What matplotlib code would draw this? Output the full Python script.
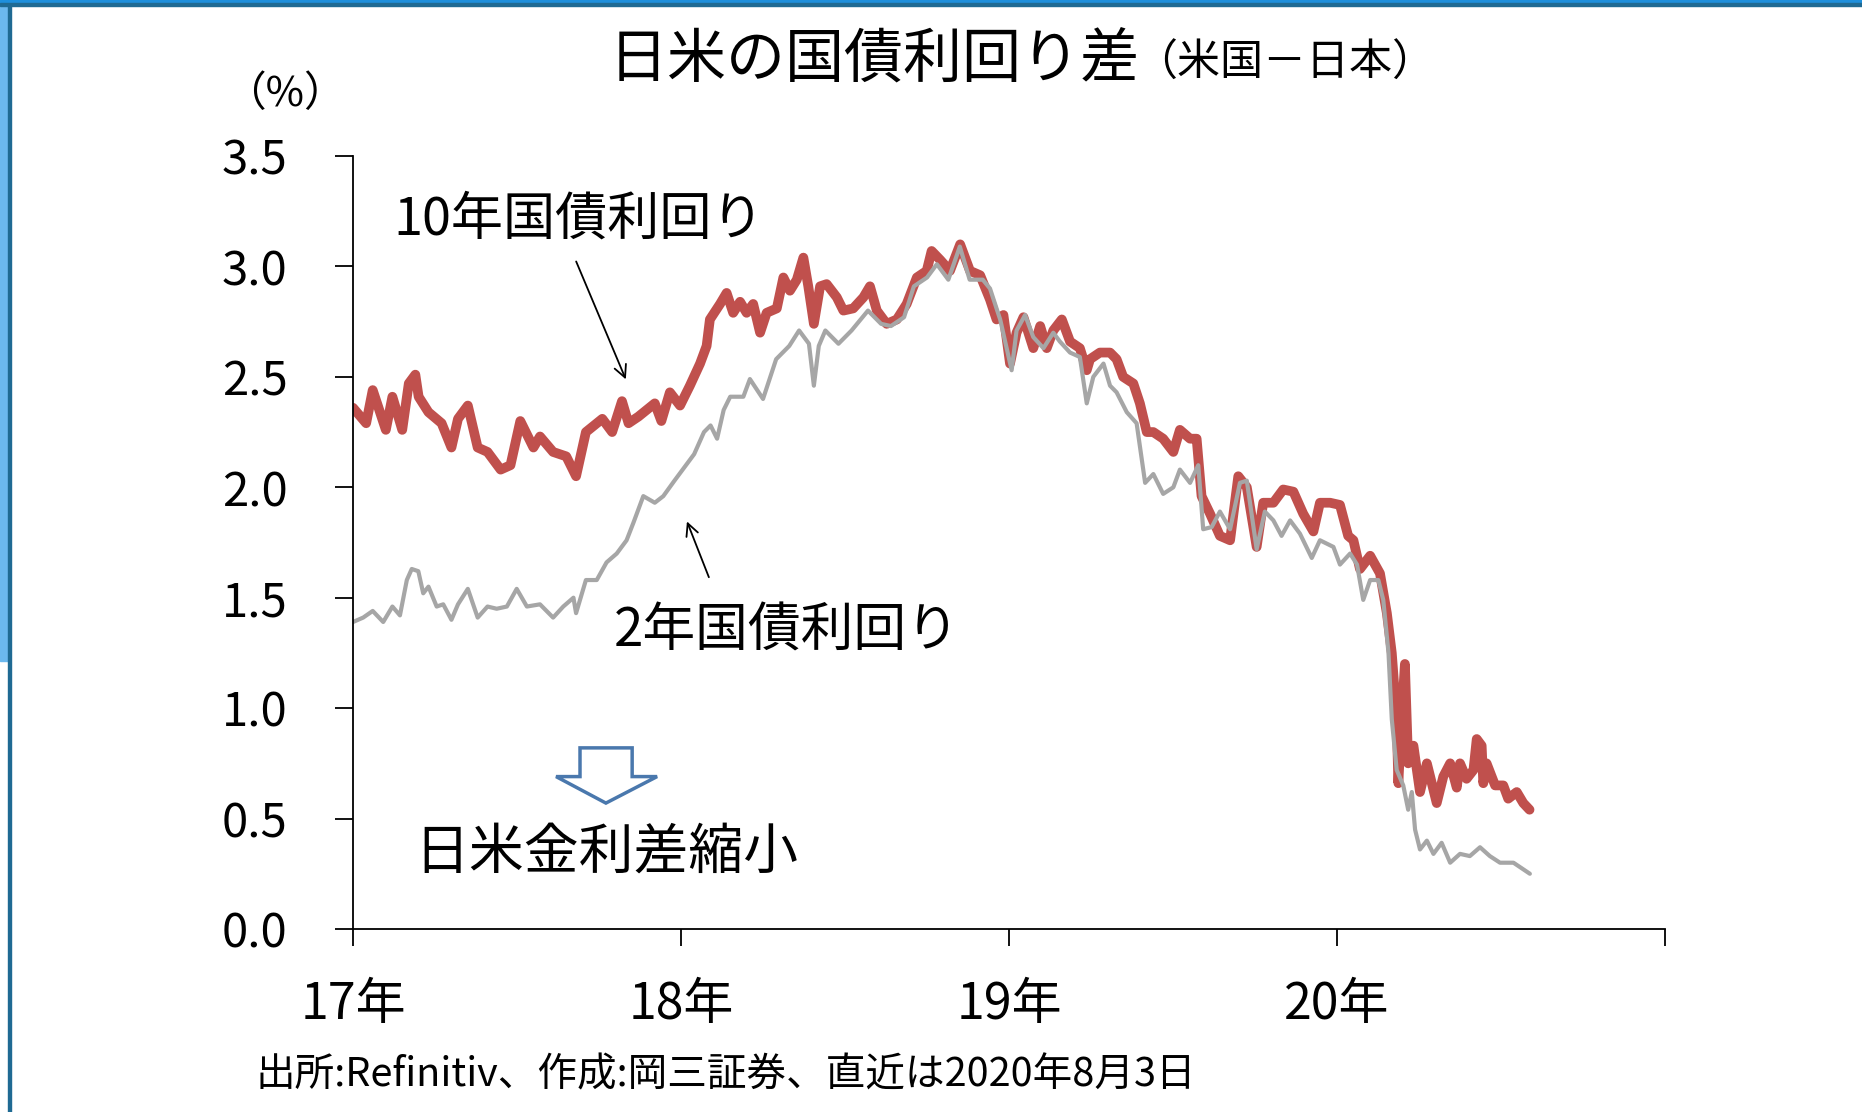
import matplotlib
matplotlib.use('Agg')
import matplotlib.pyplot as plt
from matplotlib.patches import Polygon, Rectangle

plt.rcParams['font.family'] = ['Noto Sans CJK JP', 'DejaVu Sans']

# 10年国債利回り差（米国－日本）、年は小数で表記
fecha_10 = [2017.000, 2017.040, 2017.060, 2017.100, 2017.120, 2017.150, 2017.170, 2017.190, 2017.200, 2017.230,
            2017.270, 2017.300, 2017.320, 2017.350, 2017.380, 2017.410, 2017.450, 2017.480, 2017.510, 2017.550,
            2017.570, 2017.610, 2017.650, 2017.680, 2017.710, 2017.760, 2017.790, 2017.820, 2017.840, 2017.870,
            2017.920, 2017.940, 2017.966, 2017.997, 2018.027, 2018.058, 2018.078, 2018.088, 2018.119, 2018.139,
            2018.159, 2018.180, 2018.200, 2018.220, 2018.241, 2018.261, 2018.292, 2018.312, 2018.332, 2018.353,
            2018.373, 2018.388, 2018.405, 2018.424, 2018.444, 2018.475, 2018.495, 2018.525, 2018.556, 2018.576,
            2018.597, 2018.627, 2018.658, 2018.688, 2018.719, 2018.749, 2018.764, 2018.790, 2018.820, 2018.851,
            2018.881, 2018.912, 2018.942, 2018.962, 2018.983, 2019.003, 2019.023, 2019.044, 2019.074, 2019.095,
            2019.115, 2019.135, 2019.161, 2019.186, 2019.216, 2019.237, 2019.247, 2019.277, 2019.308, 2019.328,
            2019.348, 2019.379, 2019.399, 2019.420, 2019.440, 2019.470, 2019.501, 2019.521, 2019.552, 2019.572,
            2019.587, 2019.613, 2019.643, 2019.674, 2019.699, 2019.725, 2019.755, 2019.775, 2019.806, 2019.836,
            2019.867, 2019.897, 2019.928, 2019.948, 2019.979, 2020.009, 2020.034, 2020.050, 2020.070, 2020.101,
            2020.131, 2020.152, 2020.167, 2020.182, 2020.187, 2020.197, 2020.207, 2020.217, 2020.233, 2020.253,
            2020.274, 2020.304, 2020.324, 2020.345, 2020.365, 2020.375, 2020.395, 2020.416, 2020.426, 2020.441,
            2020.446, 2020.456, 2020.482, 2020.507, 2020.522, 2020.548, 2020.568, 2020.587]
dif_10 = [2.36, 2.29, 2.44, 2.26, 2.41, 2.26, 2.47, 2.51, 2.41, 2.34,
          2.29, 2.18, 2.31, 2.37, 2.18, 2.16, 2.08, 2.10, 2.30, 2.18,
          2.23, 2.16, 2.14, 2.05, 2.25, 2.31, 2.25, 2.39, 2.29, 2.32,
          2.38, 2.30, 2.43, 2.37, 2.46, 2.56, 2.64, 2.76, 2.83, 2.88,
          2.79, 2.84, 2.79, 2.83, 2.70, 2.79, 2.81, 2.95, 2.89, 2.94,
          3.04, 2.91, 2.74, 2.91, 2.92, 2.86, 2.80, 2.81, 2.86, 2.91,
          2.80, 2.74, 2.76, 2.83, 2.95, 2.98, 3.07, 3.03, 2.98, 3.10,
          2.98, 2.96, 2.85, 2.76, 2.78, 2.56, 2.70, 2.77, 2.63, 2.73,
          2.63, 2.71, 2.76, 2.66, 2.63, 2.53, 2.58, 2.61, 2.61, 2.58,
          2.50, 2.47, 2.38, 2.25, 2.25, 2.22, 2.16, 2.26, 2.22, 2.22,
          1.96, 1.88, 1.78, 1.76, 2.05, 2.00, 1.73, 1.93, 1.93, 1.99,
          1.98, 1.88, 1.80, 1.93, 1.93, 1.92, 1.78, 1.76, 1.63, 1.69,
          1.61, 1.43, 1.25, 0.95, 0.66, 0.95, 1.20, 0.75, 0.83, 0.62,
          0.75, 0.57, 0.69, 0.75, 0.64, 0.75, 0.68, 0.72, 0.86, 0.83,
          0.66, 0.75, 0.65, 0.65, 0.59, 0.62, 0.57, 0.54]

# 2年国債利回り差（米国－日本）
fecha_2 = [2017.000, 2017.031, 2017.060, 2017.092, 2017.120, 2017.143, 2017.164, 2017.179, 2017.199, 2017.214,
           2017.230, 2017.255, 2017.275, 2017.300, 2017.320, 2017.350, 2017.380, 2017.410, 2017.438, 2017.469,
           2017.499, 2017.530, 2017.570, 2017.610, 2017.641, 2017.672, 2017.680, 2017.710, 2017.743, 2017.773,
           2017.804, 2017.834, 2017.855, 2017.885, 2017.920, 2017.946, 2017.980, 2018.010, 2018.040, 2018.070,
           2018.090, 2018.110, 2018.130, 2018.150, 2018.190, 2018.210, 2018.250, 2018.290, 2018.330, 2018.360,
           2018.390, 2018.405, 2018.420, 2018.440, 2018.480, 2018.520, 2018.570, 2018.610, 2018.640, 2018.680,
           2018.710, 2018.750, 2018.780, 2018.815, 2018.850, 2018.880, 2018.920, 2018.942, 2018.973, 2019.008,
           2019.023, 2019.049, 2019.074, 2019.105, 2019.135, 2019.155, 2019.186, 2019.216, 2019.237, 2019.257,
           2019.288, 2019.308, 2019.328, 2019.359, 2019.389, 2019.415, 2019.440, 2019.470, 2019.501, 2019.521,
           2019.552, 2019.577, 2019.592, 2019.618, 2019.643, 2019.674, 2019.704, 2019.725, 2019.755, 2019.780,
           2019.806, 2019.831, 2019.857, 2019.887, 2019.923, 2019.948, 2019.989, 2020.009, 2020.040, 2020.061,
           2020.080, 2020.101, 2020.126, 2020.141, 2020.157, 2020.167, 2020.182, 2020.202, 2020.217, 2020.228,
           2020.238, 2020.253, 2020.274, 2020.294, 2020.319, 2020.345, 2020.375, 2020.405, 2020.436, 2020.466,
           2020.497, 2020.538, 2020.568, 2020.588]
dif_2 = [1.39, 1.41, 1.44, 1.39, 1.46, 1.42, 1.58, 1.63, 1.62, 1.52,
         1.55, 1.46, 1.47, 1.40, 1.47, 1.54, 1.41, 1.46, 1.45, 1.46,
         1.54, 1.46, 1.47, 1.41, 1.46, 1.50, 1.43, 1.58, 1.58, 1.66,
         1.70, 1.76, 1.84, 1.96, 1.93, 1.96, 2.03, 2.09, 2.15, 2.25,
         2.28, 2.22, 2.35, 2.41, 2.41, 2.49, 2.40, 2.58, 2.64, 2.71,
         2.65, 2.46, 2.64, 2.71, 2.65, 2.71, 2.80, 2.74, 2.73, 2.77,
         2.91, 2.95, 3.01, 2.94, 3.09, 2.94, 2.94, 2.90, 2.76, 2.53,
         2.71, 2.78, 2.68, 2.63, 2.70, 2.66, 2.61, 2.59, 2.38, 2.50,
         2.56, 2.46, 2.43, 2.34, 2.29, 2.02, 2.06, 1.97, 2.00, 2.08,
         2.02, 2.10, 1.81, 1.82, 1.89, 1.81, 2.02, 2.03, 1.72, 1.89,
         1.85, 1.78, 1.85, 1.79, 1.68, 1.76, 1.73, 1.65, 1.70, 1.65,
         1.49, 1.58, 1.58, 1.49, 1.25, 0.95, 0.72, 0.65, 0.54, 0.62,
         0.45, 0.36, 0.40, 0.34, 0.39, 0.30, 0.34, 0.33, 0.37, 0.33,
         0.30, 0.30, 0.27, 0.25]

anios = [2017, 2018, 2019, 2020, 2021]
etiquetas_x = ['17年', '18年', '19年', '20年', '']
valores_y = [0.0, 0.5, 1.0, 1.5, 2.0, 2.5, 3.0, 3.5]

fig = plt.figure(figsize=(18.62, 11.12), dpi=100)

# marco azul de la diapositiva
fig.patches.append(Rectangle((0, 0.406), 0.0045, 0.594, transform=fig.transFigure,
                             color='#6bb8ee', zorder=0))
fig.patches.append(Rectangle((0.0045, 0), 0.0016, 1, transform=fig.transFigure,
                             color='#1f6a93', zorder=1))
fig.patches.append(Rectangle((0, 0.9973), 1, 0.0027, transform=fig.transFigure,
                             color='#1e8fdc', zorder=1))
fig.patches.append(Rectangle((0, 0.9946), 1, 0.0027, transform=fig.transFigure,
                             color='#1f6a93', zorder=1))

ax = fig.add_axes([0.1896, 0.1646, 0.7046, 0.6951])
ax.plot(fecha_10, dif_10, color='#c0504d', lw=7.0, solid_joinstyle='round', solid_capstyle='round')
ax.plot(fecha_2, dif_2, color='#a6a6a6', lw=3.0, solid_joinstyle='round', solid_capstyle='round')

ax.set_xlim(2017, 2021)
ax.set_ylim(0, 3.5)
ax.set_xticks(anios)
ax.set_xticklabels(etiquetas_x)
ax.set_yticks(valores_y)
ax.set_yticklabels([f'{v:.1f}' for v in valores_y])
ax.tick_params(axis='y', direction='out', length=13, width=1.3, pad=34, labelsize=34)
ax.tick_params(axis='x', direction='out', length=12, width=1.3, pad=24, labelsize=36)
for lado in ['top', 'right']:
    ax.spines[lado].set_visible(False)
for lado in ['left', 'bottom']:
    ax.spines[lado].set_linewidth(1.3)

# anotaciones
ax.text(2017.689, 3.21, '10年国債利回り', fontsize=37.5, ha='center', va='center')
ax.annotate('', xy=(2017.835, 2.477), xytext=(2017.677, 3.034),
            arrowprops=dict(arrowstyle='->', lw=1.3, color='black', mutation_scale=22))
ax.text(2018.323, 1.35, '2年国債利回り', fontsize=38, ha='center', va='center')
ax.annotate('', xy=(2018.015, 1.857), xytext=(2018.088, 1.581),
            arrowprops=dict(arrowstyle='->', lw=1.3, color='black', mutation_scale=22))
ax.text(2017.774, 0.344, '日米金利差縮小', fontsize=39.5, ha='center', va='center')

flecha = Polygon([(2017.692, 0.82), (2017.851, 0.82), (2017.851, 0.69), (2017.927, 0.69),
                  (2017.771, 0.57), (2017.619, 0.69), (2017.692, 0.69)],
                 closed=True, facecolor='white', edgecolor='#4a78ad', lw=2.5, joinstyle='miter')
ax.add_patch(flecha)

# títulos
fig.text(1140 / 1862, 1 - 78 / 1112, '日米の国債利回り差', fontsize=42.5, ha='right', va='baseline')
fig.text(1134 / 1862, 1 - 76 / 1112, '（米国－日本）', fontsize=31, ha='left', va='baseline')
fig.text(285 / 1862, 1 - 95 / 1112, '（%）', fontsize=30, ha='center', va='center')
fig.text(255 / 1862, 1 - 1075 / 1112, '出所:Refinitiv、作成:岡三証券、直近は2020年8月3日',
         fontsize=28.5, ha='left', va='center')

plt.savefig('out.png', dpi=100)
plt.close()
